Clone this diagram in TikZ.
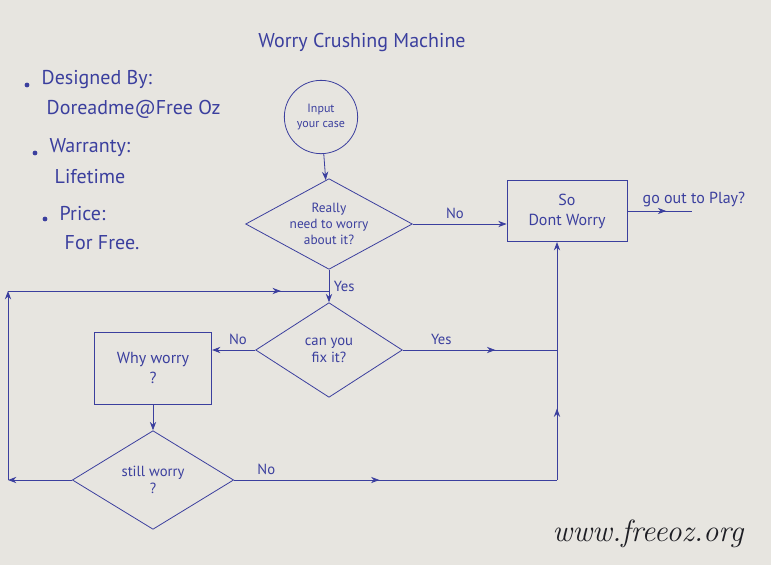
\documentclass[tikz,border=0pt]{standalone}
\usepackage{fontspec}
\usepackage{tikz}
\usetikzlibrary{arrows.meta,positioning,shapes.geometric,decorations.markings}
\newfontfamily\inkfont{PT Sans}
\definecolor{Ink}{HTML}{3B3F9E}
\definecolor{Paper}{HTML}{E7E5E0}
\definecolor{Stamp}{HTML}{1E1E24}

\begin{document}
\begin{tikzpicture}[x=0.75pt,y=-0.75pt,
    font=\inkfont\fontsize{11}{13}\selectfont,text=Ink,
    link/.style={Ink,semithick},
    flow/.style={link,-{Stealth[length=2.2mm]}},
    midarrow/.style={postaction={decorate},decoration={markings,
      mark=at position #1 with {\arrow{Stealth[length=2.2mm]}}}},
    decision/.style={diamond,draw=Ink,semithick,align=center,inner sep=0pt,aspect=1.8},
    box/.style={rectangle,draw=Ink,semithick,align=center,font=\inkfont\fontsize{12}{15}\selectfont},
    note/.style={font=\inkfont\fontsize{15}{18}\selectfont,anchor=west}]
  \fill[Paper] (0,0) rectangle (771,565);
  \useasboundingbox (0,0) rectangle (771,565);

  \node[font=\inkfont\fontsize{15}{18}\selectfont] (title) at (362,42) {Worry Crushing Machine};

  % left notes
  \foreach \y/\x/\head/\body in {80/37/Designed By:/Doreadme@Free Oz,148/45/Warranty:/Lifetime,214/55/Price:/For Free.}{
    \fill[Ink] (\x-10,\y+5) circle (1.8pt);
    \node[note] at (\x,\y) {\head};
    \node[note] at (\x+5,\y+29) {\body};
  }

  % flow
  \node[circle,draw=Ink,semithick,align=center,minimum size=55pt,inner sep=0pt,
        font=\inkfont\fontsize{9}{11}\selectfont] (input) at (321,117) {Input\\your case};
  \node[decision,minimum width=125pt,minimum height=68pt,font=\inkfont\fontsize{10}{12}\selectfont]
        (really) at (329,224) {Really\\need to worry\\about it?};
  \node[box,minimum width=90pt,minimum height=46pt] (dontworry) at (567,211) {So\\Dont Worry};
  \node[decision,minimum width=110pt,minimum height=71pt] (canfix) at (329,350) {can you\\fix it?};
  \node[box,minimum width=88pt,minimum height=54pt] (whyworry) at (153,368) {Why worry\\?};
  \node[decision,minimum width=121pt,minimum height=74pt] (stillworry) at (153,480) {still worry\\?};
  \node[anchor=south west,font=\inkfont\fontsize{12}{14}\selectfont] (play) at (638,212) {go out to Play?};
  \node[anchor=south east,font=\rmfamily\itshape\fontsize{23}{27}\selectfont,text=Stamp] (site) at (748,552) {www.freeoz.org};

  \coordinate (playend) at (692,211);
  \coordinate (looptl) at (8,291);
  \coordinate (merge) at (really.south |- looptl);
  \coordinate (join) at (557,350);
  \coordinate (corner) at (join |- stillworry.east);
  \coordinate (loopbl) at (looptl |- stillworry.west);

  \draw[flow] (input) -- (really);
  \draw[flow] (really.east) -- node[above,pos=0.45] {No} (dontworry.west |- really.east);
  \draw[link,midarrow=0.6] (dontworry.east) -- (playend);
  \draw[flow] (really.south) -- node[right,pos=0.5] {Yes} (canfix.north);
  \draw[link,midarrow=0.6] (canfix.east) -- node[above,pos=0.25] {Yes} (join);
  \draw[flow] (canfix.west) -- node[above,pos=0.4] {No} (whyworry.east |- canfix.west);
  \draw[flow] (whyworry) -- (stillworry);
  \draw[link,midarrow=0.45] (stillworry.east) -- node[above,pos=0.1] {No} (corner);
  \draw[link,midarrow=0.55] (corner) -- (join);
  \draw[flow] (join) -- (dontworry.south -| join);
  \draw[flow] (stillworry.west) -- (loopbl);
  \draw[flow] (loopbl) -- (looptl);
  \draw[link,midarrow=0.85] (looptl) -- (merge);
\end{tikzpicture}
\end{document}
